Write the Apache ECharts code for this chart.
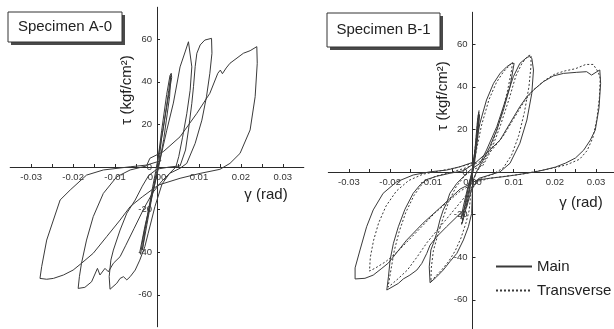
<!DOCTYPE html>
<html>
<head>
<meta charset="utf-8">
<script src="https://cdn.jsdelivr.net/npm/echarts@6/dist/echarts.min.js"></script>
<style>
  html, body { margin: 0; padding: 0; background: #fff; }
  #chart { width: 614px; height: 329px; }
</style>
</head>
<body>
<div id="chart"></div>
<script>
// 剪切角 γ (rad) 与剪应力 τ (kgf/cm2)，按加载顺序排列的滞回曲线点
const specimenA0Main = [
  [0, 0], [0.0011, 17], [0.0023, 34], [0.0031, 43], [0.0034, 44], [0.0035, 42], [0.0023, 28], [0.0011, 14], [0.0005, 3],
  [0, -3], [-0.001, -12], [-0.0029, -28], [-0.0041, -40], [-0.0039, -41], [-0.0034, -34], [-0.0022, -22], [-0.001, -9], [-0.0003, -2],
  [0.0015, 18], [0.0028, 36], [0.0033, 43], [0.003, 33], [0.0016, 13], [0.0004, 0],
  [-0.0012, -14], [-0.0024, -27], [-0.0035, -39], [-0.0028, -29], [-0.0013, -14], [-0.0002, -3],
  [0.0007, 3], [0.0023, 17], [0.0039, 30], [0.0055, 47], [0.0067, 54], [0.0075, 58.8],
  [0.0083, 47], [0.0079, 36], [0.0071, 25], [0.0061, 14], [0.0052, 5], [0.0045, 0],
  [0.003, -3], [0.0012, -8], [-0.0005, -18.6], [-0.0013, -24.9], [-0.0021, -31.1], [-0.0029, -37.4], [-0.0041, -43.7],
  [-0.0052, -48.4], [-0.0064, -51.5], [-0.0072, -53], [-0.008, -51.5], [-0.0088, -52.3], [-0.0096, -54.6], [-0.0112, -57.4],
  [-0.0114, -51.5], [-0.011, -43.7], [-0.0104, -39], [-0.0088, -29.6], [-0.0072, -21.7], [-0.0052, -15.5], [-0.0035, -9],
  [-0.002, -4], [0, -1], [0.003, 0],
  [0.0055, 0.5], [0.0068, 8], [0.0075, 17.4], [0.0083, 29.9], [0.0087, 37.7], [0.0091, 47.1], [0.0095, 53.4], [0.0103, 57.3],
  [0.0114, 59.6], [0.013, 60.4],
  [0.0131, 53.4], [0.0126, 44], [0.0118, 33], [0.0107, 22], [0.0091, 11.1], [0.0071, 1.7], [0.0055, -0.6],
  [0.003, -3], [0.001, -7], [-0.001, -12], [-0.003, -19], [-0.0055, -29], [-0.0075, -37], [-0.0088, -42.1], [-0.0104, -45.2],
  [-0.0116, -49.2], [-0.0124, -47.6], [-0.0136, -50.7], [-0.0142, -47.6], [-0.0156, -53.9], [-0.0172, -56.5], [-0.0188, -57],
  [-0.0185, -51.5], [-0.018, -45.2], [-0.0168, -34.3], [-0.0152, -23.3], [-0.0128, -12.4], [-0.0096, -4.6], [-0.0064, -1.4],
  [-0.0025, 0.5],
  [-0.0017, 4.1], [0.0015, 7.2], [0.0055, 14.2], [0.0095, 25.2], [0.0126, 34.6], [0.0145, 44], [0.0151, 45.5], [0.0156, 43.8],
  [0.0165, 46.5], [0.0174, 48.7], [0.0206, 53.4], [0.0222, 54.6], [0.0238, 56.5],
  [0.0239, 48.7], [0.0234, 33], [0.0222, 17.4], [0.0198, 6.4], [0.0174, 1.7], [0.015, -1.1], [0.0103, -3], [0.0055, -5.3],
  [0.0003, -8.5],
  [-0.0035, -14], [-0.0064, -18.6], [-0.0088, -24.9], [-0.012, -32.7], [-0.0152, -40.5], [-0.018, -45.2], [-0.02, -48.4],
  [-0.0223, -50.7], [-0.0247, -52.3], [-0.0263, -52.7], [-0.0279, -52.3],
  [-0.0275, -46.8], [-0.0263, -34.3], [-0.0247, -24.9], [-0.0239, -20.2], [-0.0231, -15.5], [-0.0207, -10.8], [-0.0168, -3.8],
  [-0.0128, -1.4], [-0.0064, 0.1], [-0.0025, 0.9], [0.001, 3]
];

const specimenB1Main = [
  [0, 0], [0.0005, 8], [0.0008, 15], [0.0012, 24], [0.0015, 28], [0.0011, 18], [0.0006, 8], [0.0002, 2],
  [-0.0004, -5], [-0.001, -12], [-0.0018, -19], [-0.0025, -24], [-0.002, -17], [-0.0012, -9], [-0.0005, -3],
  [0.0003, 4], [0.0009, 14], [0.0014, 22], [0.0017, 27], [0.0012, 15], [0.0004, 3],
  [-0.0006, -6], [-0.0016, -15], [-0.0028, -22], [-0.0022, -16], [-0.001, -6], [0, 0],
  [0.0002, 5.6], [0.0018, 22.9], [0.0034, 33.8], [0.0051, 41.6], [0.0067, 46.3], [0.0083, 49.4], [0.0095, 51], [0.0099, 51.8],
  [0.0101, 51], [0.0091, 40], [0.0075, 29.1], [0.0059, 19.7], [0.0042, 11.9], [0.0026, 5.6], [0.0012, 1], [0.0003, -3],
  [0, -8], [-0.0002, -19.4], [-0.001, -25.7], [-0.0022, -31.9], [-0.0038, -38.2], [-0.0055, -42.1], [-0.0071, -46],
  [-0.0087, -49.2], [-0.0103, -52],
  [-0.0105, -44.5], [-0.0101, -36.6], [-0.0095, -33.5], [-0.0087, -28.8], [-0.0079, -22.5], [-0.0071, -17.8], [-0.0063, -14.7],
  [-0.0055, -10], [-0.0038, -5.3], [-0.0022, -2.2], [-0.0006, 0.9],
  [0.0018, 4], [0.0034, 10.3], [0.0059, 21.3], [0.0083, 35.4], [0.0099, 44.7], [0.0115, 51], [0.0132, 53.8], [0.0138, 54.2],
  [0.0144, 53.4], [0.0148, 47.9], [0.0144, 37], [0.0132, 24.4], [0.0115, 13.5], [0.0091, 4.1], [0.0067, 0.1], [0.004, -1.5],
  [0.0015, -3],
  [-0.0002, -8], [-0.0014, -16.3], [-0.0038, -21], [-0.0063, -25.7], [-0.0087, -30.4], [-0.0103, -34.3], [-0.0111, -38.2],
  [-0.0123, -42.9], [-0.0135, -46], [-0.0152, -48.4], [-0.0168, -50.2], [-0.018, -52.3], [-0.0208, -55.4],
  [-0.0204, -49.2], [-0.02, -41.3], [-0.0192, -33.5], [-0.018, -25.7], [-0.0164, -17.5], [-0.0144, -10], [-0.0127, -6],
  [-0.0111, -3.5], [-0.0087, -2], [-0.0055, -0.6], [-0.0022, 0.6],
  [0.001, 4.8], [0.0042, 10.3], [0.0067, 15], [0.0091, 22.9], [0.0115, 30.7], [0.0132, 35.4], [0.0148, 38.5], [0.0172, 42.4],
  [0.0196, 45.1], [0.0221, 46.3], [0.0253, 46.8], [0.0277, 47.1], [0.0289, 45.5], [0.0302, 47.1], [0.0309, 47.9],
  [0.0311, 41.6], [0.0307, 30], [0.0298, 19.7], [0.0286, 15], [0.027, 10.3], [0.025, 6.6], [0.0226, 4.2], [0.0201, 2.3],
  [0.0172, 0.9], [0.015, 0], [0.0105, -1.4], [0.0075, -2.2], [0.0043, -2.9], [0.0011, -3.8], [-0.0003, -5.3],
  [-0.003, -8], [-0.0055, -12.5], [-0.008, -17], [-0.012, -24], [-0.016, -32], [-0.0192, -39.8], [-0.0204, -42.7],
  [-0.022, -45.2], [-0.0241, -48.4], [-0.0261, -49.9], [-0.0285, -50.2],
  [-0.0285, -45], [-0.0273, -36.6], [-0.0257, -25.7], [-0.0241, -17.8], [-0.0217, -10], [-0.0184, -4.6], [-0.0144, -1.4],
  [-0.0103, 0.1], [-0.0063, 0.9], [-0.003, 2.5], [0, 4.5]
];

const specimenB1Transverse = [
  [0, 0], [0.0004, 7], [0.0009, 16], [0.0013, 25], [0.0016, 29], [0.0012, 19], [0.0005, 7], [0, 1],
  [-0.0005, -6], [-0.0012, -13], [-0.002, -20], [-0.0027, -25], [-0.0021, -18], [-0.0011, -8], [-0.0003, -2],
  [0.0005, 6], [0.0022, 22], [0.004, 34], [0.0058, 42], [0.0075, 47], [0.009, 50], [0.0097, 51.5],
  [0.0095, 48], [0.0085, 38], [0.0072, 28], [0.0058, 19], [0.0043, 11], [0.0028, 5], [0.001, 0], [-0.0002, -6],
  [-0.0008, -18], [-0.0016, -24], [-0.0028, -31], [-0.0042, -37], [-0.0058, -42], [-0.0075, -46], [-0.009, -49], [-0.0101, -51.5],
  [-0.01, -45], [-0.0095, -37], [-0.0085, -30], [-0.0072, -22], [-0.0058, -14], [-0.004, -7], [-0.002, -2], [0, 1],
  [0.0025, 3], [0.0045, 10], [0.0068, 22], [0.009, 35], [0.0105, 45], [0.012, 51], [0.0135, 54.5], [0.0142, 55],
  [0.0142, 50], [0.0137, 40], [0.0126, 28], [0.0112, 17], [0.0095, 8], [0.0075, 2], [0.005, -1], [0.002, -3],
  [-0.002, -12], [-0.005, -19], [-0.008, -26], [-0.011, -33], [-0.0135, -40], [-0.0158, -46], [-0.018, -50], [-0.0198, -53],
  [-0.0205, -54],
  [-0.0198, -46], [-0.019, -37], [-0.0178, -28], [-0.0162, -19], [-0.0142, -11], [-0.012, -5], [-0.009, -2], [-0.005, 0],
  [-0.0015, 2],
  [0.002, 5], [0.005, 11], [0.0075, 17], [0.01, 25], [0.0125, 33], [0.0148, 38.5], [0.0175, 43], [0.02, 46], [0.0225, 47.5],
  [0.025, 48.5], [0.0275, 50.5], [0.0293, 50.5], [0.0305, 47], [0.031, 44],
  [0.0308, 35], [0.0302, 25], [0.0292, 16], [0.0278, 10], [0.026, 6], [0.023, 3.5], [0.02, 2], [0.016, 0.5], [0.012, -1],
  [0.008, -2], [0.004, -3], [0.0005, -5],
  [-0.003, -9], [-0.006, -14], [-0.009, -19], [-0.012, -25], [-0.015, -31], [-0.018, -37], [-0.021, -42], [-0.0235, -45],
  [-0.025, -46.5],
  [-0.0248, -40], [-0.024, -32], [-0.0228, -24], [-0.021, -16], [-0.0185, -9], [-0.0155, -4], [-0.012, -1], [-0.008, 0.5],
  [-0.004, 2], [0, 4]
];

const panelTitles = ["Specimen A-0", "Specimen B-1"];
const legendNames = ["Main", "Transverse"];
const gammaName = "γ (rad)";
const tauName = "τ (kgf/cm²)";

const FONT = "Liberation Sans, Arial, sans-serif";
const INK = "#3a3a3a";

// 两个子图的网格位置（像素），坐标轴画在零点处
const grids = [
  { left: 10.2, width: 293.6, top: 7.25, height: 319.5, x0: 157, y0: 167 },
  { left: 328.3, width: 288.4, top: 12.25, height: 317.4, x0: 472.5, y0: 172 },
];

function xAxisFor(gridIndex) {
  const g = grids[gridIndex];
  return {
    type: "value",
    gridIndex,
    min: -0.035,
    max: 0.035,
    interval: 0.005,
    position: "bottom",
    offset: -(g.top + g.height - g.y0),
    axisLine: { onZero: false, lineStyle: { color: "#2a2a2a", width: 1 } },
    axisTick: { inside: true, length: 3, lineStyle: { color: "#2a2a2a" } },
    splitLine: { show: false },
    axisLabel: {
      margin: 5,
      color: "#333",
      fontFamily: FONT,
      fontSize: 9.5,
      showMinLabel: false,
      showMaxLabel: false,
      formatter: (v) => (Math.round(v * 1000) % 10 === 0 ? v.toFixed(2) : ""),
    },
  };
}

function yAxisFor(gridIndex, min, max) {
  const g = grids[gridIndex];
  return {
    type: "value",
    gridIndex,
    min,
    max,
    splitNumber: 7,
    position: "left",
    offset: -(g.x0 - g.left),
    axisLine: { onZero: false, lineStyle: { color: "#2a2a2a", width: 1 } },
    axisTick: { inside: true, length: 3, lineStyle: { color: "#2a2a2a" } },
    splitLine: { show: false },
    axisLabel: {
      margin: 5,
      color: "#333",
      fontFamily: FONT,
      fontSize: 9.5,
      showMinLabel: false,
      showMaxLabel: false,
      formatter: (v) => (Math.round(v) % 20 === 0 ? String(Math.round(v)) : ""),
    },
  };
}

function titleBox(x, y, w, h, text) {
  return {
    type: "group",
    children: [
      { type: "rect", shape: { x: x + 3, y: y + 3, width: w, height: h }, style: { fill: "#4a4a4a" } },
      { type: "rect", shape: { x, y, width: w, height: h }, style: { fill: "#fff", stroke: "#333", lineWidth: 1 } },
      {
        type: "text",
        x: x + w / 2,
        y: y + h / 2,
        style: { text, fill: "#222", font: "15px " + FONT, align: "center", verticalAlign: "middle" },
      },
    ],
  };
}

function label(x, y, text, rotation) {
  return {
    type: "text",
    x,
    y,
    rotation: rotation || 0,
    style: { text, fill: "#222", font: "15px " + FONT, align: "center", verticalAlign: "middle" },
  };
}

const lineBase = {
  type: "line",
  symbol: "none",
  showSymbol: false,
  smooth: false,
  animation: false,
  silent: true,
  color: INK,
  itemStyle: { color: INK },
};

const chart = echarts.init(document.getElementById("chart"));

chart.setOption({
  backgroundColor: "#fff",
  animation: false,
  grid: grids.map((g) => ({
    left: g.left,
    width: g.width,
    top: g.top,
    height: g.height,
    containLabel: false,
    outerBoundsMode: "none",
  })),
  xAxis: [xAxisFor(0), xAxisFor(1)],
  yAxis: [yAxisFor(0, -75, 75), yAxisFor(1, -74, 75)],
  legend: {
    data: legendNames,
    orient: "vertical",
    left: 490,
    top: 254,
    itemWidth: 36,
    itemHeight: 10,
    itemGap: 9,
    itemStyle: { opacity: 0 },
    textStyle: { fontFamily: FONT, fontSize: 15, color: "#222" },
    selectedMode: false,
  },
  graphic: [
    titleBox(8, 12, 114, 30, panelTitles[0]),
    titleBox(327, 13, 113, 34, panelTitles[1]),
    label(127, 90, tauName, Math.PI / 2),
    label(443, 96, tauName, Math.PI / 2),
    label(266, 195, gammaName),
    label(581, 203, gammaName),
  ],
  series: [
    {
      ...lineBase,
      name: "A-0",
      xAxisIndex: 0,
      yAxisIndex: 0,
      data: specimenA0Main,
      lineStyle: { color: INK, width: 1 },
    },
    {
      ...lineBase,
      name: legendNames[0],
      xAxisIndex: 1,
      yAxisIndex: 1,
      data: specimenB1Main,
      lineStyle: { color: INK, width: 1 },
    },
    {
      ...lineBase,
      name: legendNames[1],
      xAxisIndex: 1,
      yAxisIndex: 1,
      data: specimenB1Transverse,
      lineStyle: { color: INK, width: 1, type: [2, 2] },
    },
  ],
});
</script>
</body>
</html>
